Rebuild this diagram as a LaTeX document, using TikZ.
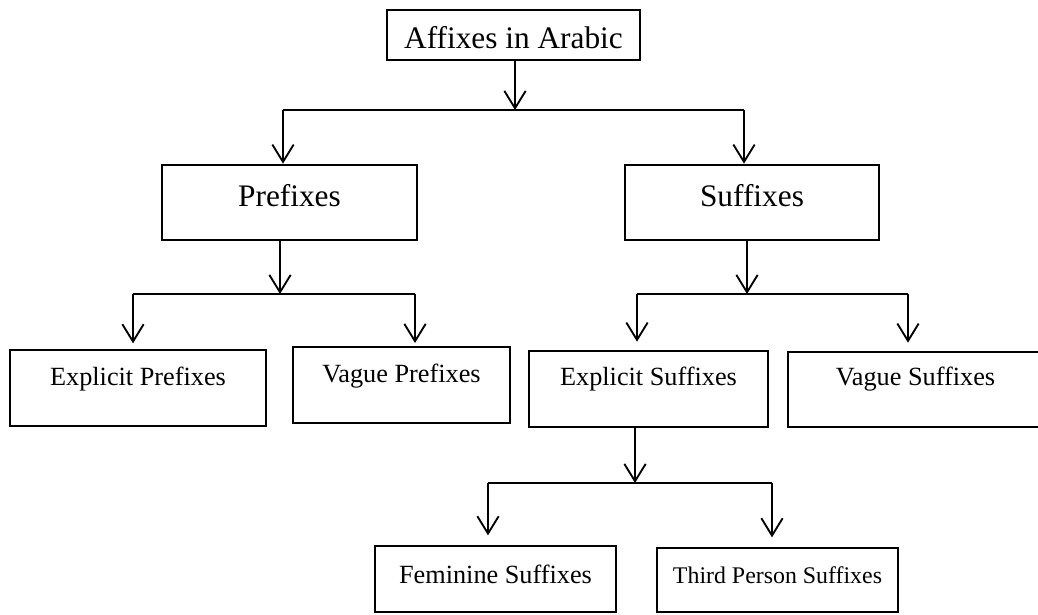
\documentclass[tikz,border=0pt]{standalone}
\usepackage{fontspec}
\setmainfont{Liberation Serif}
\usetikzlibrary{arrows.meta}

\tikzset{
  box/.style={draw, line width=2pt, inner sep=0pt},
  lift/.style={text height=0pt, text depth=#1},
  drop/.style={text height=#1, text depth=0pt},
  big/.style={font=\fontsize{23.5}{28}\selectfont},
  mid/.style={font=\fontsize{19.7}{24}\selectfont},
  sml/.style={font=\fontsize{17.9}{22}\selectfont},
  arr/.style={line width=1.4pt, -{Straight Barb[length=13pt,width=16pt]}},
  bus/.style={line width=0.9pt},
}

\begin{document}
\begin{tikzpicture}[x=0.75pt, y=-0.75pt]
\useasboundingbox (0,0) rectangle (1038,614);
% boxes
\node[box, big, drop=20.1pt, minimum width=189.75pt, minimum height=37.5pt] (affix) at (513.5,35) {Affixes in Arabic};
\node[box, big, drop=5.8pt, minimum width=191.25pt, minimum height=56.25pt] (pre) at (289.5,202.5) {Prefixes};
\node[box, big, drop=5.8pt, minimum width=190.5pt, minimum height=56.25pt] (suf) at (752,202.5) {Suffixes};
\node[box, mid, lift=3.5pt, minimum width=192pt, minimum height=57pt] (exppre) at (138,388) {Explicit Prefixes};
\node[box, mid, lift=3.5pt, minimum width=162.75pt, minimum height=57pt] (vagpre) at (401.5,385) {Vague Prefixes};
\node[box, mid, lift=5pt, minimum width=179.25pt, minimum height=57pt] (expsuf) at (648.5,389) {Explicit Suffixes};
\node[box, mid, lift=5.8pt, minimum width=191.25pt, minimum height=56.25pt] (vagsuf) at (915.5,389.5) {Vague Suffixes};
\node[box, mid, drop=6.2pt, minimum width=180.75pt, minimum height=49.5pt] (fem) at (495.5,579) {Feminine Suffixes};
\node[box, sml, drop=5.85pt, minimum width=180.75pt, minimum height=48pt] (third) at (777.5,580) {Third Person Suffixes};
% level 1
\coordinate (b1m) at (515,110);
\coordinate (b1l) at (283,110);
\coordinate (b1r) at (744,110);
\draw[arr] (affix.south -| b1m) -- (b1m);
\draw[bus] (b1l) -- (b1r);
\draw[arr] (b1l) -- (b1l |- pre.north);
\draw[arr] (b1r) -- (b1r |- suf.north);
% prefixes
\coordinate (b2m) at (280,294);
\coordinate (b2l) at (133,294);
\coordinate (b2r) at (415,294);
\draw[arr] (pre.south -| b2m) -- (b2m);
\draw[bus] (b2l) -- (b2r);
\draw[arr, shorten >=4pt] (b2l) -- (b2l |- exppre.north);
\draw[arr, shorten >=2pt] (b2r) -- (b2r |- vagpre.north);
% suffixes
\coordinate (b3m) at (747,294);
\coordinate (b3l) at (637,294);
\coordinate (b3r) at (908,294);
\draw[arr] (suf.south -| b3m) -- (b3m);
\draw[bus] (b3l) -- (b3r);
\draw[arr, shorten >=6pt] (b3l) -- (b3l |- expsuf.north);
\draw[arr, shorten >=6pt] (b3r) -- (b3r |- vagsuf.north);
% explicit suffixes
\coordinate (b4m) at (635,483);
\coordinate (b4l) at (488,483);
\coordinate (b4r) at (772,483);
\draw[arr] (expsuf.south -| b4m) -- (b4m);
\draw[bus] (b4l) -- (b4r);
\draw[arr, shorten >=7pt] (b4l) -- (b4l |- fem.north);
\draw[arr, shorten >=7pt] (b4r) -- (b4r |- third.north);
\end{tikzpicture}
\end{document}
